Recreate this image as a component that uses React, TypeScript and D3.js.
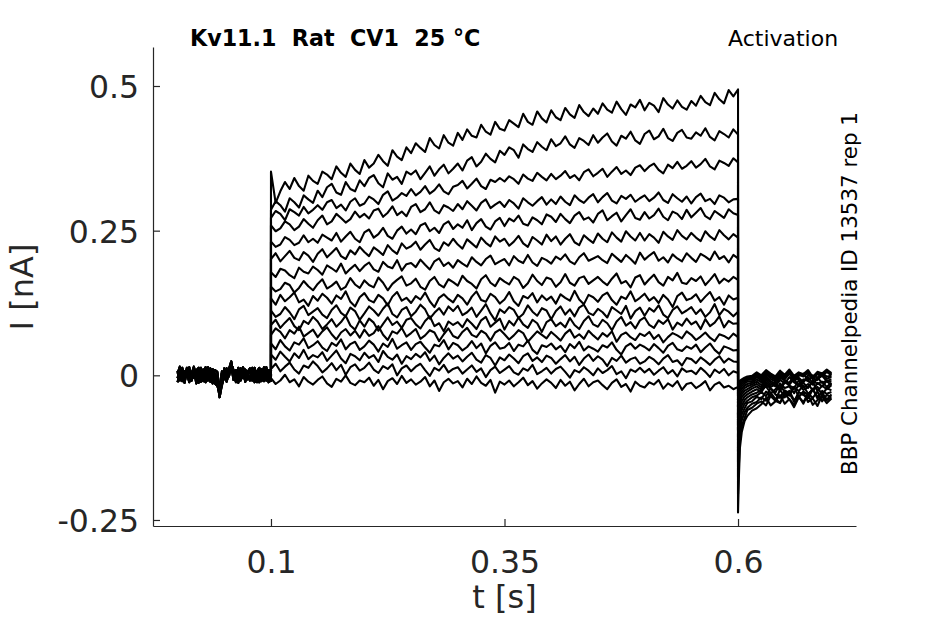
import { useRef, useEffect } from "react";
import * as d3 from "d3";

// Figure size and plot box (px)
const WIDTH = 945;
const HEIGHT = 624;
const BOX = { left: 153, right: 856, top: 47, bottom: 526 };

const X_DOMAIN = [-0.0263, 0.7263];
const Y_DOMAIN = [-0.2604, 0.5674];

const xTicks = [0.1, 0.35, 0.6];
const yTicks = [-0.25, 0, 0.25, 0.5];
const yTickLabels = ["-0.25", "0", "0.25", "0.5"];

// sampling times (s)
const baseTimes = d3.range(41).map((i) => i * 0.0025); // 0 .. 0.1
const stepTimes = d3.range(101).map((i) => 0.1 + i * 0.005); // 0.1 .. 0.6
const tailTimes = [
  0.6, 0.6008, 0.602, 0.604, 0.607, 0.61, 0.615, 0.62, 0.625, 0.63, 0.635,
  0.64, 0.645, 0.65, 0.655, 0.66, 0.665, 0.67, 0.675, 0.68, 0.685, 0.69,
  0.695, 0.7,
];

// holding current before the step, pA (four recordings, reused by the sweeps)
const baselinePA = [
  [8, -9, 13, -4, 5, -12, 2, 15, -7, 9, -11, 4, 14, -6, 7, -14, 3, -10, -38, -16, 5, -3, 11, 24, -2, 9, -8, 12, -5, 10, 2, -9, 13, -4, 7, -12, 11, -10, 4, 9, -3],
  [-5, 12, -10, 7, -2, 14, -9, 3, 10, -13, 13, -4, -12, 6, -8, 11, -14, -18, -30, 4, -7, 12, -2, 19, 9, -6, 13, -4, 8, -11, 6, 12, -8, 3, -12, 10, -5, 14, -9, 2, 6],
  [3, 15, -4, -13, 8, 4, -9, 12, -14, 3, 8, -10, 2, 14, -11, -4, 9, 6, -24, -18, 12, -11, 4, 15, -8, 3, -13, 7, 12, -7, -2, 10, -9, 13, -4, 2, -10, 6, 14, -12, 3],
  [-12, 4, 8, -7, 13, -10, 6, -4, 5, 13, -8, 10, -5, -9, 12, 2, -7, -12, -33, 7, -5, 3, 9, 21, 5, -12, 2, -9, 14, 4, -7, -5, 10, -12, 6, 13, -4, -8, 9, 5, -10],
];

// current during the activation step, pA, one row per sweep (top to bottom)
const stepPA = [
  [352, 298, 318, 334, 322, 341, 327, 319, 345, 336, 331, 352, 347, 339, 361, 350, 343, 366, 355, 348, 372, 359, 366, 381, 370, 362, 389, 378, 372, 394, 384, 401, 393, 386, 410, 398, 392, 415, 402, 397, 419, 407, 425, 414, 411, 433, 421, 416, 438, 426, 423, 441, 435, 429, 452, 438, 433, 456, 444, 437, 458, 446, 441, 462, 451, 445, 467, 455, 448, 461, 452, 470, 459, 454, 473, 460, 450, 468, 463, 476, 458, 471, 466, 455, 479, 468, 461, 475, 464, 459, 474, 466, 483, 472, 467, 488, 477, 470, 493, 482, 494],
  [286, 301, 294, 283, 306, 299, 290, 311, 304, 298, 319, 308, 325, 331, 316, 312, 334, 322, 318, 337, 327, 341, 346, 332, 325, 349, 338, 343, 331, 352, 347, 354, 339, 350, 361, 345, 356, 364, 349, 357, 366, 354, 371, 377, 361, 369, 383, 374, 368, 388, 381, 394, 389, 376, 399, 391, 386, 403, 395, 389, 408, 396, 401, 413, 399, 393, 410, 405, 398, 415, 402, 411, 418, 404, 397, 414, 409, 421, 406, 400, 417, 423, 408, 413, 426, 410, 405, 419, 424, 411, 409, 420, 414, 427, 412, 406, 422, 417, 411, 425, 416],
  [272, 284, 279, 268, 287, 282, 276, 291, 280, 286, 294, 286, 299, 303, 289, 295, 285, 300, 306, 293, 297, 309, 304, 296, 312, 318, 302, 307, 315, 310, 322, 311, 317, 327, 314, 320, 330, 318, 313, 326, 329, 336, 323, 331, 340, 327, 322, 338, 334, 341, 335, 344, 339, 331, 347, 340, 336, 350, 343, 337, 348, 339, 345, 353, 341, 346, 337, 351, 356, 344, 350, 357, 343, 352, 360, 348, 354, 346, 359, 363, 353, 361, 366, 355, 349, 364, 358, 369, 357, 362, 370, 359, 365, 374, 361, 356, 371, 367, 362, 375, 368],
  [259, 249, 254, 266, 261, 251, 257, 270, 262, 255, 268, 276, 261, 266, 279, 272, 264, 270, 283, 273, 279, 271, 285, 288, 274, 281, 292, 277, 283, 275, 291, 296, 282, 287, 299, 285, 280, 294, 290, 284, 296, 287, 301, 293, 285, 298, 304, 289, 295, 300, 291, 303, 297, 288, 306, 299, 293, 301, 308, 295, 304, 296, 309, 300, 294, 311, 303, 298, 307, 313, 299, 308, 315, 302, 297, 310, 305, 312, 300, 306, 311, 301, 307, 316, 303, 298, 313, 306, 300, 309, 297, 308, 314, 301, 305, 296, 311, 307, 299, 304, 305],
  [231, 222, 226, 239, 234, 225, 229, 242, 230, 236, 229, 243, 238, 233, 246, 231, 240, 248, 236, 230, 247, 252, 238, 244, 255, 241, 236, 250, 257, 245, 252, 244, 259, 263, 249, 255, 246, 261, 266, 253, 261, 255, 268, 251, 263, 270, 257, 252, 266, 272, 258, 271, 266, 276, 262, 259, 273, 268, 261, 278, 274, 265, 279, 270, 263, 276, 282, 269, 273, 264, 279, 285, 268, 275, 281, 266, 277, 287, 272, 269, 282, 271, 277, 288, 274, 268, 283, 279, 270, 286, 273, 281, 289, 275, 270, 284, 278, 272, 287, 280, 277],
  [201, 211, 197, 206, 215, 203, 199, 213, 207, 196, 210, 218, 204, 212, 220, 206, 201, 216, 209, 222, 213, 206, 221, 215, 208, 225, 216, 210, 228, 219, 223, 231, 217, 226, 234, 220, 215, 230, 224, 236, 226, 219, 235, 228, 221, 238, 229, 223, 240, 231, 236, 224, 231, 241, 228, 222, 239, 233, 226, 243, 232, 240, 226, 236, 244, 230, 225, 242, 235, 229, 245, 236, 230, 247, 238, 231, 249, 240, 233, 246, 233, 244, 238, 229, 248, 240, 234, 251, 241, 235, 246, 238, 232, 249, 240, 234, 251, 242, 235, 244, 238],
  [178, 170, 184, 181, 173, 168, 186, 179, 176, 188, 182, 174, 190, 185, 179, 193, 176, 184, 191, 180, 189, 195, 183, 179, 196, 188, 185, 199, 181, 192, 194, 187, 200, 191, 183, 197, 202, 189, 195, 186, 199, 193, 188, 204, 196, 190, 201, 207, 192, 197, 201, 190, 206, 198, 194, 208, 195, 189, 203, 199, 193, 205, 200, 209, 197, 192, 204, 211, 198, 202, 206, 199, 194, 210, 203, 196, 208, 201, 193, 212, 200, 207, 213, 198, 204, 195, 209, 202, 197, 211, 203, 196, 210, 205, 199, 214, 201, 206, 195, 208, 202],
  [153, 145, 149, 160, 156, 143, 151, 163, 154, 147, 158, 166, 150, 155, 162, 148, 153, 168, 157, 151, 164, 156, 152, 169, 160, 147, 158, 165, 171, 155, 159, 167, 153, 148, 163, 170, 157, 152, 166, 161, 155, 172, 163, 158, 150, 166, 173, 160, 154, 168, 162, 157, 170, 165, 151, 159, 174, 163, 156, 169, 166, 153, 161, 175, 160, 155, 168, 171, 158, 164, 170, 162, 156, 167, 176, 159, 163, 152, 169, 173, 157, 166, 174, 161, 155, 170, 164, 177, 160, 158, 168, 163, 171, 156, 165, 175, 159, 167, 162, 170, 165],
  [133, 122, 139, 128, 135, 143, 126, 131, 120, 137, 129, 141, 134, 124, 138, 132, 145, 127, 119, 135, 142, 130, 126, 139, 133, 121, 136, 144, 129, 134, 125, 137, 131, 143, 128, 118, 134, 140, 132, 126, 139, 133, 122, 136, 145, 130, 127, 141, 135, 124, 131, 144, 128, 120, 137, 133, 142, 126, 138, 130, 136, 124, 140, 134, 129, 146, 131, 123, 139, 135, 127, 138, 143, 130, 122, 136, 132, 145, 128, 134, 141, 129, 135, 125, 139, 131, 118, 137, 143, 130, 133, 140, 127, 136, 144, 129, 135, 122, 138, 131, 134],
  [112, 101, 106, 118, 109, 97, 114, 120, 104, 110, 116, 105, 99, 113, 121, 108, 102, 117, 111, 96, 107, 119, 112, 103, 115, 124, 106, 100, 113, 118, 102, 110, 122, 114, 98, 108, 116, 105, 119, 111, 120, 104, 109, 117, 101, 112, 123, 107, 95, 114, 108, 118, 113, 99, 106, 121, 110, 103, 116, 112, 97, 111, 119, 105, 114, 102, 117, 122, 108, 104, 115, 109, 100, 118, 112, 106, 120, 98, 111, 117, 103, 116, 110, 121, 105, 99, 113, 119, 107, 112, 118, 106, 114, 101, 109, 123, 104, 115, 110, 102, 110],
  [87, 96, 82, 91, 99, 85, 78, 94, 89, 101, 93, 80, 88, 97, 84, 92, 103, 86, 79, 95, 84, 98, 91, 77, 89, 100, 87, 93, 82, 96, 99, 88, 81, 94, 102, 85, 90, 76, 93, 87, 92, 83, 97, 89, 80, 95, 101, 84, 91, 98, 79, 94, 86, 100, 88, 82, 96, 90, 75, 92, 97, 85, 91, 83, 99, 87, 80, 94, 102, 88, 84, 96, 90, 78, 93, 101, 86, 92, 81, 95, 100, 87, 82, 95, 89, 97, 79, 91, 86, 98, 88, 93, 80, 97, 85, 91, 102, 83, 94, 89, 90],
  [70, 81, 75, 64, 78, 72, 84, 67, 73, 79, 66, 76, 83, 71, 62, 74, 80, 69, 77, 65, 79, 68, 73, 85, 70, 61, 76, 72, 82, 67, 73, 80, 63, 69, 78, 74, 59, 71, 81, 68, 64, 75, 82, 70, 66, 77, 72, 60, 74, 79, 71, 62, 69, 78, 73, 58, 67, 76, 70, 64, 75, 68, 60, 72, 79, 65, 71, 63, 77, 69, 62, 73, 67, 76, 58, 70, 74, 66, 61, 72, 68, 75, 63, 70, 57, 66, 73, 69, 64, 76, 70, 61, 67, 74, 65, 59, 71, 68, 63, 72, 66],
  [55, 45, 61, 50, 43, 57, 53, 64, 47, 52, 59, 48, 42, 56, 51, 62, 45, 54, 58, 44, 50, 60, 53, 41, 55, 49, 63, 46, 52, 57, 44, 54, 58, 48, 39, 53, 50, 61, 45, 56, 52, 43, 49, 59, 47, 55, 38, 51, 57, 46, 48, 56, 42, 53, 50, 60, 44, 37, 52, 49, 55, 45, 51, 40, 54, 47, 58, 43, 50, 46, 41, 52, 48, 57, 44, 36, 50, 55, 46, 53, 49, 43, 54, 47, 39, 51, 56, 45, 42, 50, 46, 53, 40, 48, 55, 44, 37, 50, 47, 43, 44],
  [36, 27, 41, 32, 24, 38, 30, 44, 28, 35, 31, 40, 25, 34, 43, 29, 21, 37, 33, 26, 39, 30, 35, 23, 42, 32, 27, 36, 20, 33, 28, 37, 31, 40, 25, 34, 19, 30, 38, 29, 34, 24, 32, 39, 27, 22, 35, 30, 17, 31, 26, 36, 29, 21, 33, 38, 25, 31, 23, 34, 30, 20, 28, 35, 24, 32, 18, 29, 36, 25, 33, 27, 16, 30, 25, 34, 22, 28, 31, 20, 24, 32, 27, 19, 29, 35, 23, 26, 17, 30, 28, 21, 31, 25, 18, 27, 33, 22, 29, 24, 23],
  [11, 20, 7, 15, 22, 10, 3, 17, 13, 24, 16, 5, 12, 21, 9, 18, 1, 14, 19, 8, 13, 22, 10, 4, 16, 11, 19, 0, 12, 17, 7, 15, 20, 9, -1, 13, 8, 18, 5, 11, 14, 3, 10, 17, 6, 12, -3, 9, 15, 4, 10, 16, 5, 1, 12, 8, 18, 2, 7, 13, 3, 11, 15, 6, -4, 9, 5, 14, 8, 0, 12, 4, 9, 16, 2, 7, -5, 10, 6, 13, 5, 11, 1, 8, 14, 3, 9, -2, 12, 6, 8, 2, 13, 6, -3, 10, 4, 11, 0, 7, 4],
  [-5, -15, -9, 1, -12, -7, -19, -3, -11, -16, -8, -2, -14, -20, -6, -11, 0, -13, -17, -9, -12, -4, -18, -8, -24, -10, -5, -15, -1, -13, -7, -16, -11, -3, -19, -9, -27, -12, -6, -14, -10, -21, -6, -15, -2, -13, -18, -8, -30, -11, -16, -9, -19, -12, -4, -17, -10, -23, -14, -7, -13, -22, -8, -18, -11, -26, -15, -6, -19, -12, -9, -17, -24, -13, -7, -20, -15, -28, -11, -18, -21, -12, -16, -8, -23, -14, -19, -10, -25, -15, -13, -22, -17, -10, -26, -16, -12, -21, -18, -24, -20],
];

// tail current after stepping back, pA, same sweep order
const tailPA = [
  [-237, -182, -126, -98, -79, -70, -61, -57, -50, -39, -52, -45, -34, -49, -41, -55, -38, -46, -33, -51, -43, -37, -48, -40],
  [-205, -160, -112, -88, -74, -60, -56, -49, -45, -52, -35, -44, -48, -31, -42, -50, -37, -29, -46, -40, -53, -34, -43, -38],
  [-176, -134, -98, -78, -64, -56, -49, -46, -38, -44, -30, -41, -47, -33, -27, -43, -36, -49, -31, -39, -28, -45, -34, -37],
  [-150, -115, -86, -68, -57, -48, -45, -37, -41, -28, -36, -43, -25, -38, -31, -45, -29, -34, -40, -24, -37, -30, -42, -33],
  [-131, -100, -74, -60, -49, -44, -38, -35, -29, -36, -22, -33, -39, -26, -31, -20, -37, -28, -34, -23, -40, -27, -32, -29],
  [-112, -88, -64, -52, -43, -38, -33, -30, -26, -19, -31, -24, -16, -29, -35, -21, -27, -18, -32, -25, -20, -34, -22, -26],
  [-96, -74, -55, -45, -37, -33, -28, -24, -29, -16, -23, -30, -14, -22, -19, -31, -15, -25, -20, -12, -27, -18, -24, -17],
  [-82, -63, -47, -38, -32, -28, -23, -19, -25, -12, -20, -16, -27, -11, -18, -22, -9, -21, -15, -26, -13, -19, -10, -17],
  [-70, -53, -40, -33, -27, -24, -19, -15, -21, -8, -17, -12, -23, -10, -16, -6, -19, -13, -22, -9, -15, -11, -20, -13],
  [-58, -44, -34, -28, -22, -19, -16, -11, -17, -5, -13, -19, -8, -14, -3, -12, -17, -7, -10, -16, -4, -13, -9, -11],
  [-48, -36, -28, -23, -18, -15, -13, -7, -12, -2, -10, -15, -4, -9, -13, 0, -8, -11, -3, -14, -6, -1, -10, -7],
  [-40, -30, -23, -19, -14, -11, -10, -3, -9, 2, -6, -11, -1, -7, 3, -9, -4, -12, 1, -5, -8, 2, -6, -3],
  [-33, -25, -19, -15, -11, -8, -7, -1, -6, 4, -3, -8, 2, -5, 5, -7, -1, 3, -9, 0, -4, 4, -2, -1],
  [-27, -20, -15, -12, -8, -6, -5, 1, -4, 6, -1, -6, 4, -3, 7, -5, 1, -2, 5, -7, 2, -1, 6, 0],
  [-22, -16, -12, -9, -6, -4, -3, 3, -2, 7, 1, -4, 6, -1, 8, -3, 3, 0, 7, -5, 4, 1, 8, 2],
  [-18, -13, -9, -7, -4, -2, -1, 5, 0, 9, 3, -2, 8, 1, 10, -1, 5, 2, 9, -3, 6, 3, 10, 4],
];

const TITLE = "Kv11.1  Rat  CV1  25 °C";
const PROTOCOL = "Activation";
const SOURCE = "BBP Channelpedia ID 13537 rep 1";

const AXIS_COLOR = "#262626";
const FONT = "'DejaVu Sans', sans-serif";

type Pt = [number, number];

function zip(times: number[], pa: number[]): Pt[] {
  const n = Math.min(times.length, pa.length);
  const out: Pt[] = [];
  for (let i = 0; i < n; i++) out.push([times[i], pa[i] / 1000]);
  return out;
}

export default function App() {
  const svgRef = useRef<SVGSVGElement>(null);

  useEffect(() => {
    if (!svgRef.current) return;
    const svg = d3.select(svgRef.current);
    svg.selectAll("*").remove();

    const x = d3.scaleLinear().domain(X_DOMAIN).range([BOX.left, BOX.right]);
    const y = d3.scaleLinear().domain(Y_DOMAIN).range([BOX.bottom, BOX.top]);

    // ── sweeps ──
    const sweeps = stepPA.map((step, i) => [
      ...zip(baseTimes, baselinePA[i % baselinePA.length]),
      ...zip(stepTimes, step),
      ...zip(tailTimes, tailPA[i]),
    ]);

    const line = d3
      .line<Pt>()
      .x((d) => x(d[0]))
      .y((d) => y(d[1]));

    svg
      .append("g")
      .selectAll("path")
      .data(sweeps)
      .join("path")
      .attr("d", line)
      .attr("fill", "none")
      .attr("stroke", "#000")
      .attr("stroke-width", 2.1)
      .attr("stroke-linejoin", "round");

    // ── axes: ticks point inward ──
    const yAxis = d3
      .axisLeft(y)
      .tickValues(yTicks)
      .tickFormat((_, i) => yTickLabels[i])
      .tickSizeInner(-7)
      .tickSizeOuter(0)
      .tickPadding(14);
    const yG = svg
      .append("g")
      .attr("transform", `translate(${BOX.left},0)`)
      .call(yAxis);

    const xAxis = d3
      .axisBottom(x)
      .tickValues(xTicks)
      .tickFormat((d) => String(d))
      .tickSizeInner(-7)
      .tickSizeOuter(0)
      .tickPadding(25);
    const xG = svg
      .append("g")
      .attr("transform", `translate(0,${BOX.bottom})`)
      .call(xAxis);

    for (const g of [xG, yG]) {
      g.select(".domain").attr("stroke", AXIS_COLOR).attr("stroke-width", 1.2);
      g.selectAll(".tick line").attr("stroke", AXIS_COLOR).attr("stroke-width", 1.2);
      g.selectAll("text")
        .attr("fill", AXIS_COLOR)
        .attr("font-size", "31.5px")
        .attr("font-family", FONT);
    }
    yG.selectAll("text").attr("dy", "0.36em");

    // ── labels ──
    svg
      .append("text")
      .attr("x", (BOX.left + BOX.right) / 2)
      .attr("y", 608)
      .attr("text-anchor", "middle")
      .attr("fill", AXIS_COLOR)
      .attr("font-size", "32px")
      .attr("font-family", FONT)
      .text("t [s]");

    svg
      .append("text")
      .attr("transform", `translate(33,287) rotate(-90)`)
      .attr("text-anchor", "middle")
      .attr("fill", AXIS_COLOR)
      .attr("font-size", "32px")
      .attr("font-family", FONT)
      .text("I [nA]");

    svg
      .append("text")
      .attr("x", 190)
      .attr("y", 46)
      .attr("fill", "#000")
      .attr("font-size", "22.2px")
      .attr("font-weight", "bold")
      .attr("font-family", FONT)
      .style("white-space", "pre")
      .text(TITLE);

    svg
      .append("text")
      .attr("x", 728)
      .attr("y", 46)
      .attr("fill", "#000")
      .attr("font-size", "22px")
      .attr("font-family", FONT)
      .text(PROTOCOL);

    svg
      .append("text")
      .attr("transform", `translate(857,475) rotate(-90)`)
      .attr("fill", "#000")
      .attr("font-size", "21.4px")
      .attr("font-family", FONT)
      .text(SOURCE);
  }, []);

  return (
    <svg
      ref={svgRef}
      width={WIDTH}
      height={HEIGHT}
      style={{ position: "fixed", left: 0, top: 0, background: "#fff" }}
    />
  );
}
